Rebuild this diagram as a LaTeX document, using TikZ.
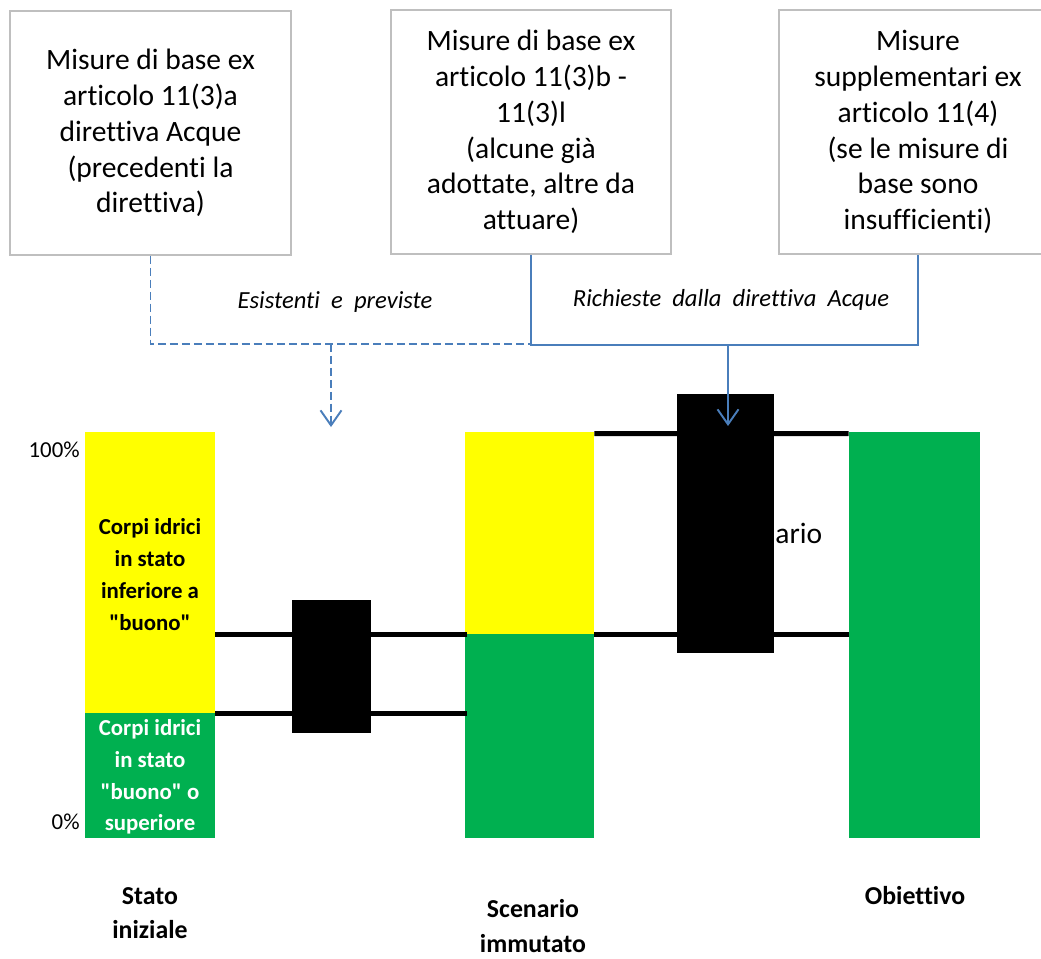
\documentclass[tikz,border=0pt]{standalone}
\usepackage{fontspec}
\setmainfont{Carlito}[Ligatures={NoCommon}]
\usetikzlibrary{arrows.meta}
\definecolor{bargreen}{HTML}{00B050}
\definecolor{baryellow}{HTML}{FFFF00}
\definecolor{lineblue}{HTML}{4A7EBB}
\definecolor{boxgray}{HTML}{BFBFBF}
\begin{document}
\begin{tikzpicture}[x=0.02cm,y=-0.02cm,
  mbox/.style={draw=boxgray,line width=1.1pt,fill=white,align=center,inner sep=0pt,
    font=\fontsize{16.8}{20.4}\selectfont},
  bar/.style={draw=none,inner sep=0pt,align=center,font=\bfseries\fontsize{13}{18.1}\selectfont},
  blk/.style={fill=black,draw=none,inner sep=0pt},
  hline/.style={line width=0.1cm,black},
  dline/.style={lineblue,line width=1.1pt,dash pattern=on 4.5pt off 2.3pt},
  sline/.style={lineblue,line width=1.1pt},
  tip/.style={-{Straight Barb[length=0.3cm,width=0.42cm,line width=1.1pt]}},
  pct/.style={anchor=east,inner sep=0pt,font=\fontsize{13}{15}\selectfont},
  captxt/.style={align=center,inner sep=0pt,font=\bfseries\fontsize{14.7}{19.4}\selectfont},
  lab/.style={inner sep=0pt,font=\itshape\fontsize{14}{17}\selectfont}]
\clip (0,0) rectangle (1041,958);
\fill[white] (0,0) rectangle (1041,958);

% top boxes
\node[mbox,minimum width=5.62cm,minimum height=4.88cm] (box1) at (150.5,133)
  {Misure di base ex\\articolo 11(3)a\\direttiva Acque\\(precedenti la\\direttiva)};
\node[mbox,minimum width=5.6cm,minimum height=4.88cm] (box2) at (531,132)
  {Misure di base ex\\articolo 11(3)b -\\11(3)l\\(alcune già\\adottate, altre da\\attuare)};
\node[mbox,minimum width=5.56cm,minimum height=4.88cm] (box3) at (918,132)
  {Misure\\supplementari ex\\articolo 11(4)\\(se le misure di\\base sono\\insufficienti)};

% connector labels
\node[lab] (labA) at (335,302) {Esistenti\ \ e\ \ previste};
\node[lab] (labB) at (731,300) {Richieste\ \ dalla\ \ direttiva\ \ Acque};

% junction coordinates
\coordinate (jd) at (531,344);
\coordinate (ja) at (331,344);
\coordinate (ta) at (331,427);
\coordinate (jb) at (728,345);
\coordinate (tb) at (728,426);

% connectors (lines)
\draw[dline] (box1.south) |- (jd);
\draw[sline] (box2.south) |- (box3.south |- jb) -- (box3.south);

% bars
\node[bar,fill=baryellow,minimum width=2.6cm,minimum height=5.62cm] (b1y) at (150,572.5) {};
\node[bar] (t1y) at (150,574.5) {Corpi idrici\\in stato\\inferiore a\\\textquotedbl buono\textquotedbl};
\node[bar,fill=bargreen,minimum width=2.6cm,minimum height=2.5cm] (b1g) at (150,775.5) {};
\node[bar,text=white] (t1g) at (150,777) {Corpi idrici\\in stato\\\textquotedbl buono\textquotedbl{} o\\superiore};
\node[bar,fill=baryellow,minimum width=2.58cm,minimum height=4.04cm] (b2y) at (529.5,533) {};
\node[bar,fill=bargreen,minimum width=2.58cm,minimum height=4.08cm] (b2g) at (529.5,736) {};
\node[bar,fill=bargreen,minimum width=2.62cm,minimum height=8.12cm] (b3) at (914.5,635) {};

% percentage labels
\node[pct] (p100) at (80,450) {100\%};
\node[pct] (p0) at (80,822) {0\%};

% horizontal black lines
\draw[hline] (b2y.south west -| b1y.east) -- ([xshift=0.04cm]b2y.south west);
\draw[hline] (b1y.south east) -- ([xshift=0.04cm]b1y.south east -| b2g.west);
\draw[hline] ([yshift=-0.04cm]b2y.north east) -- ([yshift=-0.04cm]b3.north west);
\draw[hline] (b2y.south east) -- (b2y.south east -| b3.west);

% partially hidden text
\node[anchor=west,inner sep=0pt,font=\fontsize{16.8}{20.4}\selectfont] (ario) at (775,533) {ario};

% black boxes
\node[blk,minimum width=1.58cm,minimum height=2.66cm] (k1) at (331.5,666.5) {};
\node[blk,minimum width=1.94cm,minimum height=5.18cm] (k2) at (725.5,523.5) {};

% arrows
\draw[dline,tip] (ja) -- (ta);
\draw[sline,tip] (jb) -- (tb);

% bottom captions
\node[captxt] (c1) at (150,913) {Stato\\iniziale};
\node[captxt] (c2) at (533,926) {Scenario\\immutato};
\node[captxt] (c3) at (915,896) {Obiettivo};
\end{tikzpicture}
\end{document}
